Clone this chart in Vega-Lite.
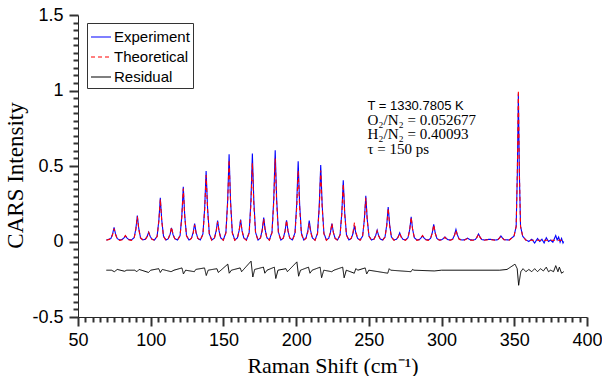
{
  "$schema": "https://vega.github.io/schema/vega-lite/v6.json",
  "width": 509,
  "height": 302,
  "autosize": {"type": "none"},
  "padding": {"left": 78, "top": 15, "right": 15, "bottom": 59},
  "background": "white",
  "datasets": {
    "spec": [
      {"x":69.5,"e":0.01,"t":0.008},
      {"x":72.6,"e":0.019,"t":0.017},{"x":73.8,"e":0.05,"t":0.046},{"x":74.8,"e":0.093,"t":0.085},{"x":75.8,"e":0.05,"t":0.046},{"x":77.0,"e":0.019,"t":0.017},{"x":78.7,"e":0.01,"t":0.008},
      {"x":80.4,"e":0.014,"t":0.012},{"x":81.6,"e":0.024,"t":0.025},{"x":82.6,"e":0.037,"t":0.04},{"x":83.6,"e":0.024,"t":0.025},{"x":84.8,"e":0.014,"t":0.012},{"x":86.7,"e":0.01,"t":0.008},
      {"x":88.6,"e":0.025,"t":0.023},{"x":89.8,"e":0.085,"t":0.08},{"x":90.8,"e":0.172,"t":0.165},{"x":91.8,"e":0.085,"t":0.08},{"x":93.0,"e":0.025,"t":0.023},{"x":94.7,"e":0.01,"t":0.008},
      {"x":96.4,"e":0.016,"t":0.014},{"x":97.6,"e":0.035,"t":0.033},{"x":98.6,"e":0.062,"t":0.06},{"x":99.6,"e":0.035,"t":0.033},{"x":100.8,"e":0.016,"t":0.014},{"x":102.6,"e":0.01,"t":0.008},
      {"x":104.4,"e":0.035,"t":0.033},{"x":105.6,"e":0.14,"t":0.135},{"x":106.6,"e":0.289,"t":0.28},{"x":107.6,"e":0.14,"t":0.135},{"x":108.8,"e":0.035,"t":0.033},{"x":110.5,"e":0.01,"t":0.008},
      {"x":112.1,"e":0.019,"t":0.019},{"x":113.3,"e":0.047,"t":0.05},{"x":114.3,"e":0.09,"t":0.095},{"x":115.3,"e":0.047,"t":0.05},{"x":116.5,"e":0.019,"t":0.019},{"x":118.4,"e":0.01,"t":0.008},
      {"x":120.2,"e":0.04,"t":0.038},{"x":121.4,"e":0.17,"t":0.165},{"x":122.4,"e":0.362,"t":0.35},{"x":123.4,"e":0.17,"t":0.165},{"x":124.6,"e":0.04,"t":0.038},{"x":126.3,"e":0.01,"t":0.008},
      {"x":128.0,"e":0.021,"t":0.02},{"x":129.2,"e":0.06,"t":0.056},{"x":130.2,"e":0.119,"t":0.11},{"x":131.2,"e":0.06,"t":0.056},{"x":132.4,"e":0.021,"t":0.02},{"x":134.1,"e":0.01,"t":0.008},
      {"x":135.9,"e":0.05,"t":0.047},{"x":137.1,"e":0.22,"t":0.21},{"x":138.1,"e":0.466,"t":0.44},{"x":139.1,"e":0.22,"t":0.21},{"x":140.3,"e":0.05,"t":0.047},{"x":142.0,"e":0.01,"t":0.008},
      {"x":143.8,"e":0.023,"t":0.022},{"x":145.0,"e":0.07,"t":0.065},{"x":146.0,"e":0.139,"t":0.13},{"x":147.0,"e":0.07,"t":0.065},{"x":148.2,"e":0.023,"t":0.022},{"x":149.9,"e":0.01,"t":0.008},
      {"x":151.7,"e":0.06,"t":0.055},{"x":152.9,"e":0.27,"t":0.255},{"x":153.9,"e":0.577,"t":0.54},{"x":154.9,"e":0.27,"t":0.255},{"x":156.1,"e":0.06,"t":0.055},{"x":157.8,"e":0.01,"t":0.008},
      {"x":159.6,"e":0.024,"t":0.023},{"x":160.8,"e":0.072,"t":0.07},{"x":161.8,"e":0.146,"t":0.14},{"x":162.8,"e":0.072,"t":0.07},{"x":164.0,"e":0.024,"t":0.023},{"x":165.8,"e":0.01,"t":0.008},
      {"x":167.7,"e":0.06,"t":0.055},{"x":168.9,"e":0.27,"t":0.245},{"x":169.9,"e":0.583,"t":0.52},{"x":170.9,"e":0.27,"t":0.245},{"x":172.1,"e":0.06,"t":0.055},{"x":173.8,"e":0.01,"t":0.008},
      {"x":175.5,"e":0.025,"t":0.024},{"x":176.7,"e":0.078,"t":0.074},{"x":177.7,"e":0.159,"t":0.15},{"x":178.7,"e":0.078,"t":0.074},{"x":179.9,"e":0.025,"t":0.024},{"x":181.6,"e":0.01,"t":0.008},
      {"x":183.4,"e":0.062,"t":0.057},{"x":184.6,"e":0.28,"t":0.26},{"x":185.6,"e":0.605,"t":0.55},{"x":186.6,"e":0.28,"t":0.26},{"x":187.8,"e":0.062,"t":0.057},{"x":189.5,"e":0.01,"t":0.008},
      {"x":191.2,"e":0.023,"t":0.023},{"x":192.4,"e":0.07,"t":0.07},{"x":193.4,"e":0.141,"t":0.14},{"x":194.4,"e":0.07,"t":0.07},{"x":195.6,"e":0.023,"t":0.023},{"x":197.4,"e":0.01,"t":0.008},
      {"x":199.2,"e":0.057,"t":0.05},{"x":200.4,"e":0.25,"t":0.225},{"x":201.4,"e":0.532,"t":0.47},{"x":202.4,"e":0.25,"t":0.225},{"x":203.6,"e":0.057,"t":0.05},{"x":205.2,"e":0.01,"t":0.008},
      {"x":206.8,"e":0.023,"t":0.021},{"x":208.0,"e":0.07,"t":0.06},{"x":209.0,"e":0.139,"t":0.12},{"x":210.0,"e":0.07,"t":0.06},{"x":211.2,"e":0.023,"t":0.021},{"x":213.0,"e":0.01,"t":0.008},
      {"x":214.7,"e":0.055,"t":0.05},{"x":215.9,"e":0.24,"t":0.225},{"x":216.9,"e":0.506,"t":0.47},{"x":217.9,"e":0.24,"t":0.225},{"x":219.1,"e":0.055,"t":0.05},{"x":220.8,"e":0.01,"t":0.008},
      {"x":222.4,"e":0.021,"t":0.021},{"x":223.6,"e":0.06,"t":0.06},{"x":224.6,"e":0.119,"t":0.12},{"x":225.6,"e":0.06,"t":0.06},{"x":226.8,"e":0.021,"t":0.021},{"x":228.5,"e":0.01,"t":0.008},
      {"x":230.2,"e":0.045,"t":0.042},{"x":231.4,"e":0.19,"t":0.18},{"x":232.4,"e":0.406,"t":0.38},{"x":233.4,"e":0.19,"t":0.18},{"x":234.6,"e":0.045,"t":0.042},{"x":236.3,"e":0.01,"t":0.008},
      {"x":237.9,"e":0.02,"t":0.022},{"x":239.1,"e":0.053,"t":0.062},{"x":240.1,"e":0.105,"t":0.125},{"x":241.1,"e":0.053,"t":0.062},{"x":242.3,"e":0.02,"t":0.022},{"x":244.0,"e":0.01,"t":0.008},
      {"x":245.7,"e":0.036,"t":0.034},{"x":246.9,"e":0.145,"t":0.14},{"x":247.9,"e":0.302,"t":0.29},{"x":248.9,"e":0.145,"t":0.14},{"x":250.1,"e":0.036,"t":0.034},{"x":251.8,"e":0.01,"t":0.008},
      {"x":253.5,"e":0.016,"t":0.015},{"x":254.7,"e":0.04,"t":0.038},{"x":255.7,"e":0.075,"t":0.07},{"x":256.7,"e":0.04,"t":0.038},{"x":257.9,"e":0.016,"t":0.015},{"x":259.5,"e":0.01,"t":0.008},
      {"x":261.1,"e":0.03,"t":0.029},{"x":262.3,"e":0.11,"t":0.105},{"x":263.3,"e":0.229,"t":0.22},{"x":264.3,"e":0.11,"t":0.105},{"x":265.5,"e":0.03,"t":0.029},{"x":267.3,"e":0.01,"t":0.008},
      {"x":269.0,"e":0.015,"t":0.013},{"x":270.2,"e":0.032,"t":0.03},{"x":271.2,"e":0.057,"t":0.055},{"x":272.2,"e":0.032,"t":0.03},{"x":273.4,"e":0.015,"t":0.013},{"x":275.2,"e":0.01,"t":0.008},
      {"x":276.9,"e":0.025,"t":0.024},{"x":278.1,"e":0.08,"t":0.078},{"x":279.1,"e":0.163,"t":0.16},{"x":280.1,"e":0.08,"t":0.078},{"x":281.3,"e":0.025,"t":0.024},{"x":283.0,"e":0.01,"t":0.008},
      {"x":284.7,"e":0.013,"t":0.012},{"x":285.9,"e":0.024,"t":0.025},{"x":286.9,"e":0.037,"t":0.04},{"x":287.9,"e":0.024,"t":0.025},{"x":289.1,"e":0.013,"t":0.012},{"x":290.8,"e":0.01,"t":0.008},
      {"x":292.4,"e":0.02,"t":0.019},{"x":293.6,"e":0.058,"t":0.056},{"x":294.6,"e":0.113,"t":0.11},{"x":295.6,"e":0.058,"t":0.056},{"x":296.8,"e":0.02,"t":0.019},{"x":298.5,"e":0.01,"t":0.008},
      {"x":300.1,"e":0.012,"t":0.01},{"x":301.3,"e":0.02,"t":0.018},{"x":302.3,"e":0.03,"t":0.028},{"x":303.3,"e":0.02,"t":0.018},{"x":304.5,"e":0.012,"t":0.01},{"x":306.1,"e":0.01,"t":0.008},
      {"x":307.7,"e":0.017,"t":0.015},{"x":308.9,"e":0.043,"t":0.04},{"x":309.9,"e":0.08,"t":0.075},{"x":310.9,"e":0.043,"t":0.04},{"x":312.1,"e":0.017,"t":0.015},{"x":313.9,"e":0.01,"t":0.008},
      {"x":315.6,"e":0.011,"t":0.009},{"x":316.8,"e":0.016,"t":0.014},{"x":317.8,"e":0.022,"t":0.02},{"x":318.8,"e":0.016,"t":0.014},{"x":320.0,"e":0.011,"t":0.009},{"x":321.6,"e":0.01,"t":0.008},
      {"x":323.2,"e":0.013,"t":0.012},{"x":324.4,"e":0.03,"t":0.029},{"x":325.4,"e":0.05,"t":0.05},{"x":326.4,"e":0.03,"t":0.029},{"x":327.6,"e":0.013,"t":0.012},{"x":329.3,"e":0.01,"t":0.008},
      {"x":333.1,"e":0.015,"t":0.013},{"x":337.0,"e":0.01,"t":0.008},
      {"x":338.6,"e":0.012,"t":0.011},{"x":339.8,"e":0.024,"t":0.022},{"x":340.8,"e":0.037,"t":0.035},{"x":341.8,"e":0.024,"t":0.022},{"x":343.0,"e":0.012,"t":0.011},{"x":346.5,"e":0.01,"t":0.008},
      {"x":349.8,"e":0.035,"t":0.035},{"x":351.3,"e":0.1,"t":0.1},{"x":352.1,"e":0.45,"t":0.46},{"x":352.8,"e":0.98,"t":1.0},{"x":353.5,"e":0.45,"t":0.46},{"x":354.3,"e":0.1,"t":0.1},{"x":355.8,"e":0.035,"t":0.035},{"x":358.0,"e":0.01,"t":0.008},
      {"x":360.0,"e":0.0,"t":0.008},{"x":362.0,"e":0.015,"t":0.008},{"x":364.0,"e":-0.01,"t":0.008},{"x":366.0,"e":0.02,"t":0.008},{"x":367.5,"e":0.0,"t":0.008},{"x":369.0,"e":0.015,"t":0.008},{"x":370.5,"e":-0.01,"t":0.008},{"x":372.0,"e":0.025,"t":0.008},{"x":373.5,"e":0.0,"t":0.008},{"x":375.0,"e":0.01,"t":0.008},{"x":376.5,"e":-0.005,"t":0.008},{"x":378.5,"e":0.04,"t":0.008},{"x":379.5,"e":0.01,"t":0.008},{"x":380.5,"e":0.03,"t":0.008},{"x":381.5,"e":-0.005,"t":0.008},{"x":382.5,"e":0.02,"t":0.008},{"x":383.5,"e":-0.01,"t":0.008},{"x":384.0,"e":0.0,"t":0.008}
    ],
    "res": [
      {"x":69.5,"y":-0.19},{"x":73,"y":-0.19},{"x":75,"y":-0.2},{"x":77,"y":-0.185},{"x":82,"y":-0.197},{"x":83.5,"y":-0.19},{"x":89,"y":-0.19},{"x":90.5,"y":-0.2},{"x":92,"y":-0.185},{"x":98.5,"y":-0.205},{"x":100,"y":-0.19},
      {"x":105.5,"y":-0.18},{"x":106.6,"y":-0.205},{"x":108,"y":-0.185},{"x":114,"y":-0.2},{"x":116,"y":-0.19},{"x":121.5,"y":-0.175},{"x":122.5,"y":-0.215},{"x":124,"y":-0.19},{"x":130,"y":-0.2},{"x":131,"y":-0.185},
      {"x":137,"y":-0.175},{"x":138.2,"y":-0.225},{"x":139.5,"y":-0.19},{"x":145.5,"y":-0.18},{"x":146.5,"y":-0.205},{"x":153,"y":-0.15},{"x":154,"y":-0.21},{"x":155.5,"y":-0.19},{"x":161.5,"y":-0.175},{"x":162.5,"y":-0.2},
      {"x":169,"y":-0.13},{"x":170.2,"y":-0.235},{"x":171.5,"y":-0.185},{"x":177.5,"y":-0.17},{"x":178.5,"y":-0.21},{"x":180,"y":-0.19},{"x":185,"y":-0.17},{"x":186,"y":-0.245},{"x":187.5,"y":-0.19},{"x":193,"y":-0.18},{"x":194,"y":-0.2},
      {"x":200.5,"y":-0.135},{"x":201.7,"y":-0.23},{"x":203,"y":-0.19},{"x":208.5,"y":-0.17},{"x":209.5,"y":-0.21},{"x":211,"y":-0.19},{"x":216.5,"y":-0.17},{"x":217.5,"y":-0.24},{"x":219,"y":-0.19},{"x":224.5,"y":-0.2},{"x":226,"y":-0.19},
      {"x":232,"y":-0.17},{"x":233,"y":-0.24},{"x":234.5,"y":-0.19},{"x":240,"y":-0.21},{"x":241,"y":-0.18},{"x":242.5,"y":-0.19},{"x":247.5,"y":-0.175},{"x":248.5,"y":-0.215},{"x":250,"y":-0.19},{"x":263,"y":-0.21},{"x":264,"y":-0.18},{"x":265,"y":-0.19},
      {"x":279,"y":-0.2},{"x":280,"y":-0.185},{"x":281,"y":-0.19},{"x":295,"y":-0.195},{"x":300,"y":-0.19},{"x":340,"y":-0.19},{"x":345,"y":-0.185},{"x":350.5,"y":-0.15},{"x":352,"y":-0.18},{"x":353,"y":-0.29},{"x":354.5,"y":-0.2},
      {"x":356,"y":-0.18},{"x":358,"y":-0.2},{"x":360,"y":-0.185},{"x":362,"y":-0.2},{"x":364,"y":-0.18},{"x":366,"y":-0.2},{"x":368,"y":-0.18},{"x":370,"y":-0.195},{"x":372,"y":-0.17},{"x":373.5,"y":-0.2},{"x":375,"y":-0.19},
      {"x":377,"y":-0.2},{"x":378.5,"y":-0.16},{"x":380,"y":-0.2},{"x":381,"y":-0.17},{"x":382.5,"y":-0.21},{"x":384,"y":-0.2}
    ],
    "annSans": [{"x":249,"y":0.897,"t":"T = 1330.7805 K"}],
    "annSerif": [
      {"x":249,"y":0.807,"t":"O₂/N₂ = 0.052677"},
      {"x":249,"y":0.711,"t":"H₂/N₂ = 0.40093"},
      {"x":249,"y":0.612,"t":"τ = 150 ps"}
    ]
  },
  "layer": [
    {
      "data": {"name": "spec"},
      "mark": {"type": "line", "strokeWidth": 1.1, "interpolate": "linear"},
      "encoding": {
        "x": {"field": "x", "type": "quantitative",
              "scale": {"domain": [50, 400], "nice": false, "zero": false},
              "axis": {"orient": "bottom", "values": [50,100,150,200,250,300,350,400], "title": "Raman Shift (cm⁻¹)",
                       "ticks": true, "tickSize": 9, "tickColor": "#333333", "tickWidth": 2,
                       "labelPadding": 5, "titleY": 55, "titleBaseline": "alphabetic", "titleFontSize": 22}},
        "y": {"field": "e", "type": "quantitative",
              "scale": {"domain": [-0.5, 1.5], "nice": false, "zero": false},
              "axis": {"orient": "left", "values": [-0.5,0,0.5,1,1.5], "title": "CARS Intensity", "labelExpr": "datum.value + ''",
                       "ticks": true, "tickSize": 9, "tickColor": "#333333", "tickWidth": 2,
                       "labelPadding": 6, "titleX": -56, "titleY": 160, "titleAngle": -90, "titleBaseline": "alphabetic", "titleAlign": "center", "titleFontSize": 23}},
        "color": {"datum": "Experiment", "type": "nominal",
                  "scale": {"domain": ["Experiment", "Theoretical", "Residual"], "range": ["#0000ff", "#ff0000", "#000000"]}},
        "strokeDash": {"datum": "Experiment", "type": "nominal",
                  "scale": {"domain": ["Experiment", "Theoretical", "Residual"], "range": [[1,0],[4,3],[1,0]]}}
      }
    },
    {
      "data": {"name": "spec"},
      "mark": {"type": "line", "strokeWidth": 1.1},
      "encoding": {
        "x": {"field": "x", "type": "quantitative",
              "axis": {"orient": "bottom", "values": [55,60,65,70,75,80,85,90,95,105,110,115,120,125,130,135,140,145,155,160,165,170,175,180,185,190,195,205,210,215,220,225,230,235,240,245,255,260,265,270,275,280,285,290,295,305,310,315,320,325,330,335,340,345,355,360,365,370,375,380,385,390,395],
                       "labels": false, "domain": false, "ticks": true, "tickSize": 5, "tickColor": "#333333", "tickWidth": 2, "title": null}},
        "y": {"field": "t", "type": "quantitative",
              "axis": {"orient": "left", "values": [-0.45,-0.4,-0.35,-0.3,-0.25,-0.2,-0.15,-0.1,-0.05,0.05,0.1,0.15,0.2,0.25,0.3,0.35,0.4,0.45,0.55,0.6,0.65,0.7,0.75,0.8,0.85,0.9,0.95,1.05,1.1,1.15,1.2,1.25,1.3,1.35,1.4,1.45],
                       "labels": false, "domain": false, "ticks": true, "tickSize": 5, "tickColor": "#333333", "tickWidth": 2, "title": null}},
        "color": {"datum": "Theoretical", "type": "nominal"},
        "strokeDash": {"datum": "Theoretical", "type": "nominal"}
      }
    },
    {
      "data": {"name": "res"},
      "mark": {"type": "line", "strokeWidth": 1},
      "encoding": {
        "x": {"field": "x", "type": "quantitative", "axis": null},
        "y": {"field": "y", "type": "quantitative", "axis": null},
        "color": {"datum": "Residual", "type": "nominal"},
        "strokeDash": {"datum": "Residual", "type": "nominal"}
      }
    },
    {
      "data": {"name": "annSans"},
      "mark": {"type": "text", "align": "left", "baseline": "middle", "font": "Liberation Sans", "fontSize": 13, "color": "#000"},
      "encoding": {
        "x": {"field": "x", "type": "quantitative", "axis": null},
        "y": {"field": "y", "type": "quantitative", "axis": null},
        "text": {"field": "t"}
      }
    },
    {
      "data": {"name": "annSerif"},
      "mark": {"type": "text", "align": "left", "baseline": "middle", "font": "Liberation Serif", "fontSize": 15, "color": "#000"},
      "encoding": {
        "x": {"field": "x", "type": "quantitative", "axis": null},
        "y": {"field": "y", "type": "quantitative", "axis": null},
        "text": {"field": "t"}
      }
    }
  ],
  "resolve": {"axis": {"x": "independent", "y": "independent"}},
  "config": {
    "view": {"stroke": null},
    "axis": {
      "grid": false, "domainColor": "#262626", "labelColor": "#000", "titleColor": "#000",
      "labelFont": "Liberation Sans", "labelFontSize": 18, "titleFont": "Liberation Serif", "titleFontWeight": "normal",
      "domainWidth": 1, "labelFlush": false, "labelOverlap": false
    },
    "legend": {
      "orient": "none", "legendX": 9, "legendY": 8, "title": null,
      "strokeColor": "#333", "fillColor": "white", "padding": 3, "cornerRadius": 0,
      "symbolType": "stroke", "symbolSize": 400, "symbolStrokeWidth": 1.2,
      "labelFont": "Liberation Sans", "labelFontSize": 15, "labelColor": "#000", "labelOffset": 2, "rowPadding": 1
    }
  }
}
